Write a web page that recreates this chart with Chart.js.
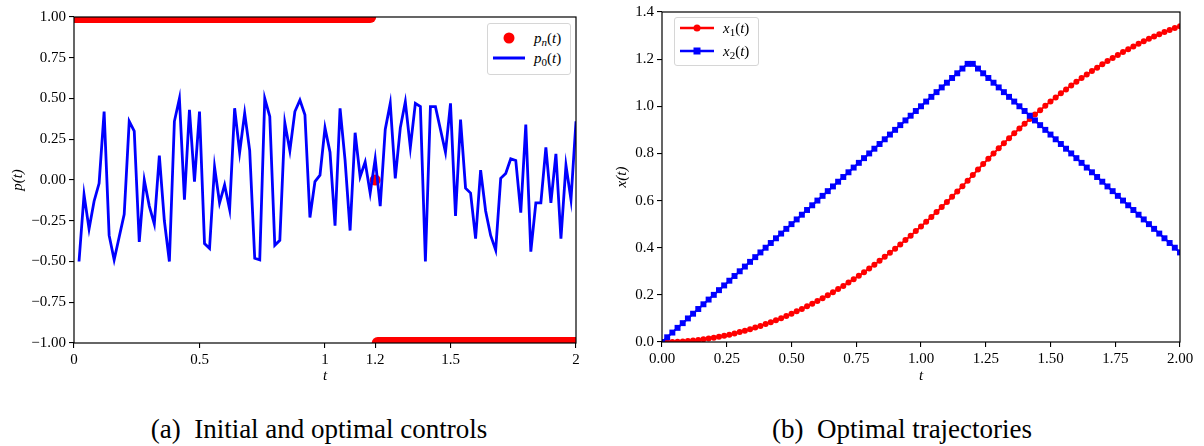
<!DOCTYPE html>
<html>
<head>
<meta charset="utf-8">
<script src="https://cdn.jsdelivr.net/npm/chart.js@4.4.0/dist/chart.umd.min.js"></script>
<style>
body { margin: 0; background: #fff; width: 1204px; height: 446px; position: relative; overflow: hidden; font-family: 'Liberation Serif', 'Times New Roman', serif; }
canvas { position: absolute; top: 0; }
#chartA { left: 0; }
#chartB { left: 600px; }
.leg { position: absolute; border: 1px solid #d6d6d6; border-radius: 3px; background: #fff; font-size: 15px; }
.row { position: absolute; left: 0; height: 20px; line-height: 20px; white-space: nowrap; }
.row svg { position: absolute; top: 0; }
.row span.lab { position: absolute; top: 0; }
.lab i { font-style: italic; }
.lab sub { font-size: 11px; vertical-align: -3px; line-height: 0; }
.cap { position: absolute; top: 414px; width: 600px; text-align: center; font-size: 27px; line-height: 30px; }
</style>
</head>
<body>
<canvas id="chartA" width="600" height="400"></canvas>
<canvas id="chartB" width="604" height="400"></canvas>

<div class="leg" style="left:487px; top:23px; width:82px; height:50px;">
  <div class="row" style="top:4px;">
    <svg width="40" height="20" style="left:4px"><circle cx="17" cy="10" r="5.5" fill="#ff0000"/></svg>
    <span class="lab" style="left:46px"><i>p</i><sub><i>n</i></sub>(<i>t</i>)</span>
  </div>
  <div class="row" style="top:24px;">
    <svg width="40" height="20" style="left:4px"><line x1="1" y1="10" x2="33" y2="10" stroke="#0000ff" stroke-width="3"/></svg>
    <span class="lab" style="left:46px"><i>p</i><sub>0</sub>(<i>t</i>)</span>
  </div>
</div>

<div class="leg" style="left:674px; top:17px; width:83px; height:47px;">
  <div class="row" style="top:0px;">
    <svg width="40" height="20" style="left:4px"><line x1="1" y1="10" x2="35" y2="10" stroke="#ff0000" stroke-width="2.5"/><circle cx="18" cy="10" r="3.5" fill="#ff0000"/></svg>
    <span class="lab" style="left:48px"><i>x</i><sub>1</sub>(<i>t</i>)</span>
  </div>
  <div class="row" style="top:23px;">
    <svg width="40" height="20" style="left:4px"><line x1="1" y1="10" x2="35" y2="10" stroke="#0000ff" stroke-width="2.5"/><rect x="14.5" y="6.5" width="7" height="7" fill="#0000ff"/></svg>
    <span class="lab" style="left:48px"><i>x</i><sub>2</sub>(<i>t</i>)</span>
  </div>
</div>

<div class="cap" style="left:19px;">(a)&nbsp; Initial and optimal controls</div>
<div class="cap" style="left:602px;">(b)&nbsp; Optimal trajectories</div>

<script>
// time grid (step 0.02)
const tGrid = [
  0, 0.02, 0.04, 0.06, 0.08, 0.1, 0.12, 0.14, 0.16, 0.18,
  0.2, 0.22, 0.24, 0.26, 0.28, 0.3, 0.32, 0.34, 0.36, 0.38,
  0.4, 0.42, 0.44, 0.46, 0.48, 0.5, 0.52, 0.54, 0.56, 0.58,
  0.6, 0.62, 0.64, 0.66, 0.68, 0.7, 0.72, 0.74, 0.76, 0.78,
  0.8, 0.82, 0.84, 0.86, 0.88, 0.9, 0.92, 0.94, 0.96, 0.98,
  1, 1.02, 1.04, 1.06, 1.08, 1.1, 1.12, 1.14, 1.16, 1.18,
  1.2, 1.22, 1.24, 1.26, 1.28, 1.3, 1.32, 1.34, 1.36, 1.38,
  1.4, 1.42, 1.44, 1.46, 1.48, 1.5, 1.52, 1.54, 1.56, 1.58,
  1.6, 1.62, 1.64, 1.66, 1.68, 1.7, 1.72, 1.74, 1.76, 1.78,
  1.8, 1.82, 1.84, 1.86, 1.88, 1.9, 1.92, 1.94, 1.96, 1.98,
  2
];

// initial control p0(t), t = 0.02 .. 2
const p0Values = [
  -0.50, -0.09, -0.30, -0.13, -0.02, 0.42, -0.34, -0.49, -0.35, -0.21,
  0.36, 0.30, -0.38, 0.00, -0.16, -0.27, 0.15, -0.25, -0.50, 0.36,
  0.50, -0.12, 0.43, -0.01, 0.42, -0.39, -0.42, 0.08, -0.14, -0.03,
  -0.18, 0.44, 0.17, 0.41, 0.18, -0.48, -0.49, 0.50, 0.39, -0.40,
  -0.37, 0.35, 0.18, 0.42, 0.49, 0.40, -0.23, -0.01, 0.03, 0.32,
  0.17, -0.28, 0.44, 0.12, -0.31, 0.29, 0.02, 0.11, -0.08, 0.13,
  -0.16, 0.31, 0.47, 0.01, 0.32, 0.48, 0.20, 0.47, 0.45, -0.50,
  0.45, 0.45, 0.31, 0.17, 0.47, -0.22, 0.37, -0.05, -0.08, -0.36,
  0.06, -0.19, -0.34, -0.43, 0.01, 0.04, 0.13, 0.12, -0.20, 0.34,
  -0.44, -0.14, -0.14, 0.20, -0.14, 0.16, -0.36, 0.09, -0.12, 0.36
];

// optimal (bang-bang) control pn(t)
const pnTimes = [0, 1.18, 1.2, 1.21, 2];
const pnValues = [1, 1, 0, -1, -1];

// optimal trajectories
const x1Values = [
  0, 0, 0.0004, 0.0012, 0.0024, 0.004, 0.006, 0.0084, 0.0112, 0.0144,
  0.018, 0.022, 0.0264, 0.0312, 0.0364, 0.042, 0.048, 0.0544, 0.0612, 0.0684,
  0.076, 0.084, 0.0924, 0.1012, 0.1104, 0.12, 0.13, 0.1404, 0.1512, 0.1624,
  0.174, 0.186, 0.1984, 0.2112, 0.2244, 0.238, 0.252, 0.2664, 0.2812, 0.2964,
  0.312, 0.328, 0.3444, 0.3612, 0.3784, 0.396, 0.414, 0.4324, 0.4512, 0.4704,
  0.49, 0.51, 0.5304, 0.5512, 0.5724, 0.594, 0.616, 0.6384, 0.6612, 0.6844,
  0.708, 0.7316, 0.7548, 0.7776, 0.8, 0.822, 0.8436, 0.8648, 0.8856, 0.906,
  0.926, 0.9456, 0.9648, 0.9836, 1.002, 1.02, 1.0376, 1.0548, 1.0716, 1.088,
  1.104, 1.1196, 1.1348, 1.1496, 1.164, 1.178, 1.1916, 1.2048, 1.2176, 1.23,
  1.242, 1.2536, 1.2648, 1.2756, 1.286, 1.296, 1.3056, 1.3148, 1.3236, 1.332,
  1.34
];
const x2Values = [
  0, 0.02, 0.04, 0.06, 0.08, 0.1, 0.12, 0.14, 0.16, 0.18,
  0.2, 0.22, 0.24, 0.26, 0.28, 0.3, 0.32, 0.34, 0.36, 0.38,
  0.4, 0.42, 0.44, 0.46, 0.48, 0.5, 0.52, 0.54, 0.56, 0.58,
  0.6, 0.62, 0.64, 0.66, 0.68, 0.7, 0.72, 0.74, 0.76, 0.78,
  0.8, 0.82, 0.84, 0.86, 0.88, 0.9, 0.92, 0.94, 0.96, 0.98,
  1, 1.02, 1.04, 1.06, 1.08, 1.1, 1.12, 1.14, 1.16, 1.18,
  1.18, 1.16, 1.14, 1.12, 1.1, 1.08, 1.06, 1.04, 1.02, 1,
  0.98, 0.96, 0.94, 0.92, 0.9, 0.88, 0.86, 0.84, 0.82, 0.8,
  0.78, 0.76, 0.74, 0.72, 0.7, 0.68, 0.66, 0.64, 0.62, 0.6,
  0.58, 0.56, 0.54, 0.52, 0.5, 0.48, 0.46, 0.44, 0.42, 0.4,
  0.38
];

const leftXTicks = [0, 0.5, 1, 1.2, 1.5, 2];

function pts(xs, ys) {
  return xs.map((x, i) => ({x: x, y: ys[i]}));
}

function fmt(v, d) {
  var s = Math.abs(v).toFixed(d);
  return (v < -1e-9 ? '\u2212' : '') + s;
}

var serif = "'Liberation Serif', 'Times New Roman', serif";
var tickFont = {family: serif, size: 15};
var titleFont = {family: serif, size: 15, style: 'italic'};

// box around the plot area, like matplotlib spines
const framePlugin = {
  id: 'frame',
  afterDatasetsDraw(chart) {
    var a = chart.chartArea;
    var ctx = chart.ctx;
    ctx.save();
    ctx.strokeStyle = '#000';
    ctx.lineWidth = 1.2;
    ctx.strokeRect(a.left, a.top, a.right - a.left, a.bottom - a.top);
    ctx.restore();
  }
};

function gridOpts() {
  return {drawOnChartArea: false, drawTicks: true, tickLength: 5, color: '#000', lineWidth: 1.1};
}

//---------------------
//- (a) controls chart -
//---------------------
new Chart(document.getElementById('chartA').getContext('2d'), {
  type: 'line',
  data: {
    datasets: [{
      label: 'p0(t)',
      data: pts(tGrid.slice(1), p0Values),
      borderColor: '#0000ff',
      borderWidth: 2.8,
      pointRadius: 0,
      tension: 0,
      order: 1,
      clip: 0
    }, {
      label: 'pn(t)',
      data: pts(pnTimes, pnValues),
      borderColor: '#ff0000',
      backgroundColor: '#ff0000',
      borderWidth: 12,
      borderCapStyle: 'round',
      pointRadius: ctx => (ctx.raw && ctx.raw.y === 0) ? 5.5 : 0,
      pointBorderWidth: 0,
      segment: {
        borderColor: ctx => ctx.p0.parsed.y === ctx.p1.parsed.y ? '#ff0000' : 'rgba(0,0,0,0)'
      },
      order: 2,
      clip: 0
    }]
  },
  options: {
    responsive: false,
    animation: false,
    devicePixelRatio: 1,
    events: [],
    layout: {padding: {left: 0, top: 17, right: 24, bottom: 0}},
    plugins: {legend: {display: false}, tooltip: {enabled: false}},
    scales: {
      x: {
        type: 'linear', min: 0, max: 2,
        afterBuildTicks: ax => { ax.ticks = leftXTicks.map(v => ({value: v})); },
        afterFit: ax => { ax.height = 57; },
        ticks: {callback: v => String(v), font: tickFont, color: '#000', maxRotation: 0, autoSkip: false, padding: 3},
        grid: gridOpts(),
        border: {display: false},
        title: {display: true, text: 't', font: titleFont, color: '#000', padding: {top: 15, bottom: 15}}
      },
      y: {
        min: -1, max: 1,
        afterFit: ax => { ax.width = 74; },
        ticks: {stepSize: 0.25, callback: v => fmt(v, 2), font: tickFont, color: '#000', padding: 3},
        grid: gridOpts(),
        border: {display: false},
        title: {display: true, text: 'p(t)', font: titleFont, color: '#000', padding: {top: 9, bottom: 9}}
      }
    }
  },
  plugins: [framePlugin]
});

//------------------------
//- (b) trajectory chart -
//------------------------
new Chart(document.getElementById('chartB').getContext('2d'), {
  type: 'line',
  data: {
    datasets: [{
      label: 'x1(t)',
      data: pts(tGrid, x1Values),
      borderColor: '#ff0000',
      backgroundColor: '#ff0000',
      borderWidth: 2,
      pointStyle: 'circle',
      pointRadius: 3,
      pointBorderWidth: 0,
      order: 2,
      clip: 0
    }, {
      label: 'x2(t)',
      data: pts(tGrid, x2Values),
      borderColor: '#0000ff',
      backgroundColor: '#0000ff',
      borderWidth: 2,
      pointStyle: 'rect',
      pointRadius: 4.2,
      pointBorderWidth: 0,
      order: 1,
      clip: 0
    }]
  },
  options: {
    responsive: false,
    animation: false,
    devicePixelRatio: 1,
    events: [],
    layout: {padding: {left: 0, top: 10, right: 24, bottom: 0}},
    plugins: {legend: {display: false}, tooltip: {enabled: false}},
    scales: {
      x: {
        type: 'linear', min: 0, max: 2,
        afterFit: ax => { ax.height = 58; },
        ticks: {stepSize: 0.25, callback: v => fmt(v, 2), font: tickFont, color: '#000', maxRotation: 0, autoSkip: false, padding: 3},
        grid: gridOpts(),
        border: {display: false},
        title: {display: true, text: 't', font: titleFont, color: '#000', padding: {top: 15, bottom: 15}}
      },
      y: {
        min: 0, max: 1.4,
        afterFit: ax => { ax.width = 62; },
        ticks: {stepSize: 0.2, callback: v => fmt(v, 1), font: tickFont, color: '#000', padding: 3},
        grid: gridOpts(),
        border: {display: false},
        title: {display: true, text: 'x(t)', font: titleFont, color: '#000', padding: {top: 13, bottom: 13}}
      }
    }
  },
  plugins: [framePlugin]
});
</script>
</body>
</html>
